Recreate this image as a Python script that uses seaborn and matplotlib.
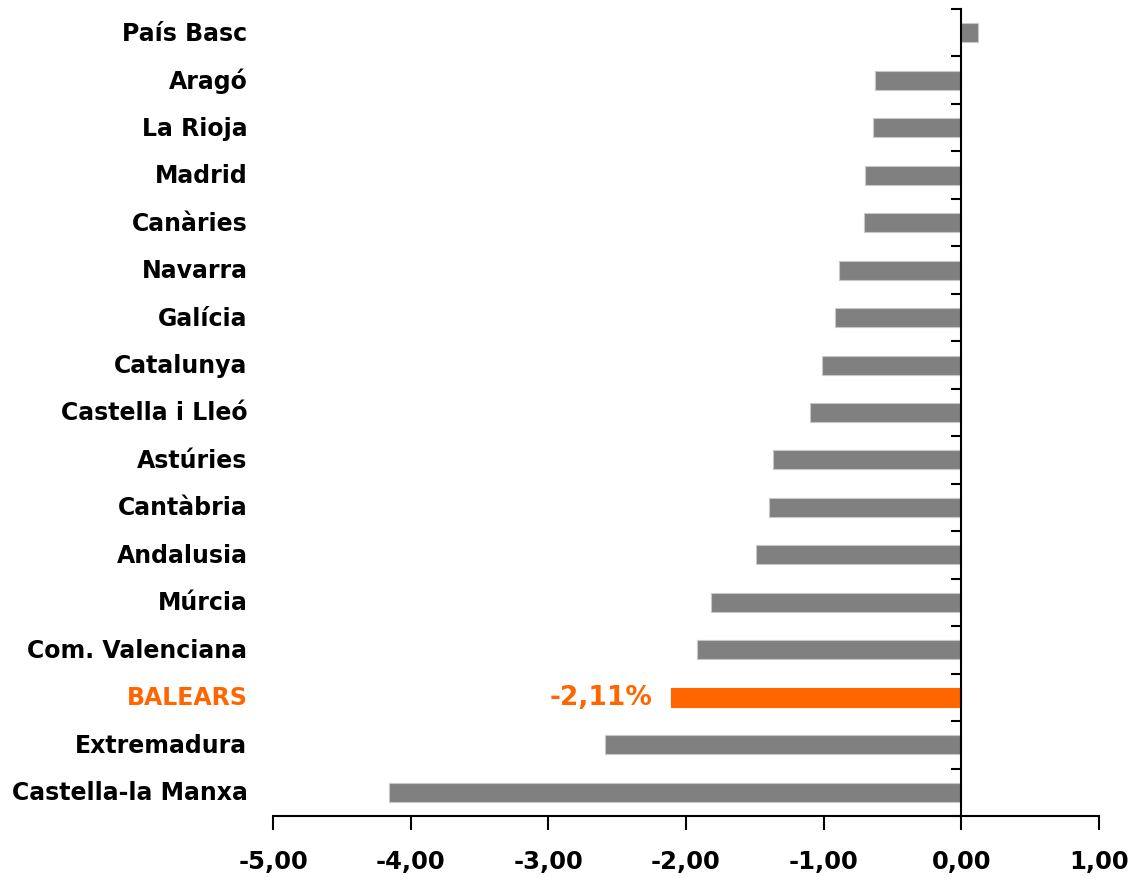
import matplotlib
matplotlib.use("Agg")
import matplotlib.pyplot as plt
from matplotlib.ticker import FixedLocator, FuncFormatter
import seaborn as sns
import pandas as pd

regions = [
    "País Basc", "Aragó", "La Rioja ", "Madrid", "Canàries", "Navarra",
    "Galícia", "Catalunya", "Castella i Lleó", "Astúries", "Cantàbria",
    "Andalusia", "Múrcia", "Com. Valenciana", "BALEARS", "Extremadura",
    "Castella-la Manxa",
]
values = [
    0.12, -0.63, -0.64, -0.70, -0.71, -0.89, -0.92, -1.01, -1.10, -1.37,
    -1.40, -1.49, -1.82, -1.92, -2.11, -2.59, -4.16,
]
highlight = "BALEARS"
x_ticks = [-5, -4, -3, -2, -1, 0, 1]

GREY = "#808080"
ORANGE = "#FF6600"

sns.set_theme(style="white")
plt.rcParams["font.family"] = ["DejaVu Sans"]

df = pd.DataFrame({"region": regions, "value": values})
df["group"] = ["hi" if r == highlight else "base" for r in regions]

fig = plt.figure(figsize=(11.3, 8.79), dpi=100)
ax = fig.add_axes([273 / 1130, 1 - 817 / 879, (1099 - 273) / 1130, (817 - 10) / 879])

sns.barplot(
    data=df, x="value", y="region", hue="group", order=regions,
    palette={"base": GREY, "hi": ORANGE}, orient="h", width=0.4,
    saturation=1, legend=False, ax=ax, edgecolor="#c8c8c8", linewidth=0.8,
)
for patch in ax.patches:
    if patch.get_facecolor()[:3] == matplotlib.colors.to_rgb(ORANGE):
        patch.set_edgecolor(ORANGE)

n = len(regions)
ax.set_xlim(x_ticks[0], x_ticks[-1])
ax.set_ylim(n - 0.5, -0.5)
ax.set_xlabel("")
ax.set_ylabel("")

# x axis along the bottom, y axis through zero
for side in ("top", "right"):
    ax.spines[side].set_visible(False)
ax.spines["left"].set_position(("data", 0))
for side in ("left", "bottom"):
    ax.spines[side].set_color("black")
    ax.spines[side].set_linewidth(1.5)
    ax.spines[side].set_zorder(5)

ax.xaxis.set_major_locator(FixedLocator(x_ticks))
ax.xaxis.set_major_formatter(FuncFormatter(lambda v, p: f"{v:.2f}".replace(".", ",")))
ax.tick_params(axis="x", which="major", bottom=True, direction="out", length=10,
               width=1.5, color="black", pad=14, labelsize=17.5, labelcolor="black")
for lbl in ax.get_xticklabels():
    lbl.set_fontweight("bold")

# tick marks between categories on the zero axis
ax.yaxis.set_major_locator(FixedLocator([i - 0.5 for i in range(n + 1)]))
ax.set_yticklabels([])
ax.tick_params(axis="y", which="major", left=True, direction="out", length=7,
               width=1.5, color="black")

# category names at the left edge
trans = matplotlib.transforms.blended_transform_factory(ax.transAxes, ax.transData)
for i, r in enumerate(regions):
    is_hi = r == highlight
    ax.text(-0.031, i, r.strip(), transform=trans, ha="right", va="center",
            fontsize=17, fontweight="bold",
            color=ORANGE if is_hi else "black")

# value label for the highlighted bar
hi_idx = regions.index(highlight)
hi_val = values[hi_idx]
ax.text(hi_val - 0.13, hi_idx, f"{hi_val:.2f}".replace(".", ",") + "%",
        ha="right", va="center", fontsize=19, fontweight="bold", color=ORANGE)

ax.grid(False)
fig.savefig("out.png", dpi=100, facecolor="white")
